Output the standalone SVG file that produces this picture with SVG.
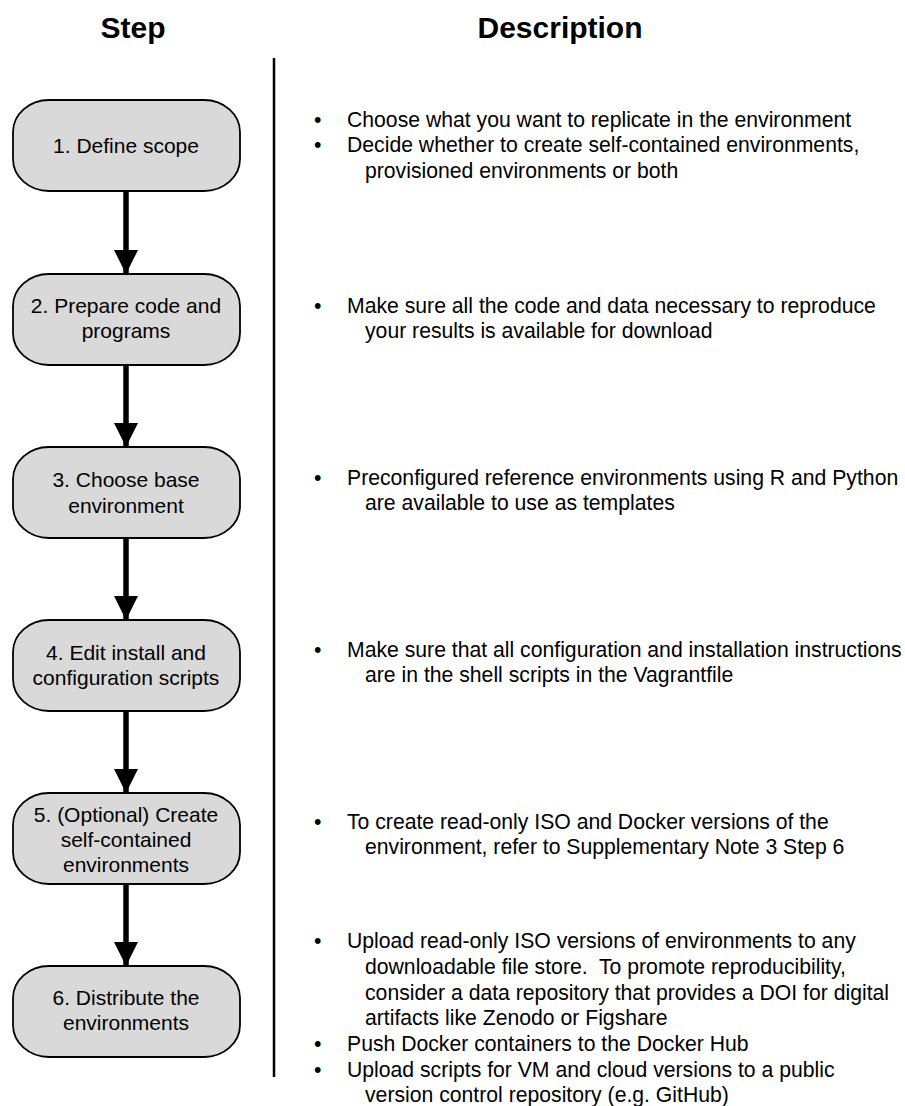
<svg xmlns="http://www.w3.org/2000/svg" width="905" height="1106" viewBox="0 0 905 1106">
<style>
.hdr{font-family:"Liberation Sans",Arial,sans-serif;font-size:30px;font-weight:bold;fill:#000;text-anchor:middle}
.node rect{fill:#d9d9d9;stroke:#000;stroke-width:1.8}
.node text{font-family:"Liberation Sans",Arial,sans-serif;font-size:21px;fill:#000;text-anchor:middle}
.desc text{font-family:"Liberation Sans",Arial,sans-serif;font-size:21.2px;fill:#000}
.conn line{stroke:#000;stroke-width:5.5}
.div{stroke:#000;stroke-width:2.5}
</style>
<defs>
<marker id="ah" viewBox="0 0 24 24" markerWidth="24" markerHeight="24" refX="24" refY="12" orient="auto" markerUnits="userSpaceOnUse">
<path d="M0,0 L24,12 L0,24 Z" fill="#000"/>
</marker>
</defs>
<rect width="905" height="1106" fill="#fff"/>
<text class="hdr" x="133" y="38">Step</text>
<text class="hdr" x="560" y="38">Description</text>
<line class="div" x1="274" y1="58" x2="274" y2="1077"/>

<g id="connectors" class="conn">
<line x1="126" y1="192" x2="126" y2="274" marker-end="url(#ah)"/>
<line x1="126" y1="365" x2="126" y2="447" marker-end="url(#ah)"/>
<line x1="126" y1="538" x2="126" y2="620" marker-end="url(#ah)"/>
<line x1="126" y1="711" x2="126" y2="793" marker-end="url(#ah)"/>
<line x1="126" y1="884" x2="126" y2="966" marker-end="url(#ah)"/>
</g>

<g id="n1" class="node"><rect x="13" y="100" width="227" height="91" rx="36" ry="32"/><text x="126" y="153">1. Define scope</text></g>
<g id="n2" class="node"><rect x="13" y="274" width="227" height="91" rx="36" ry="32"/><text x="126" y="313">2. Prepare code and</text><text x="126" y="338">programs</text></g>
<g id="n3" class="node"><rect x="13" y="447" width="227" height="91" rx="36" ry="32"/><text x="126" y="487">3. Choose base</text><text x="126" y="513">environment</text></g>
<g id="n4" class="node"><rect x="13" y="620" width="227" height="91" rx="36" ry="32"/><text x="126" y="660">4. Edit install and</text><text x="126" y="685">configuration scripts</text></g>
<g id="n5" class="node"><rect x="13" y="793" width="227" height="91" rx="36" ry="32"/><text x="126" y="822">5. (Optional) Create</text><text x="126" y="847">self-contained</text><text x="126" y="872">environments</text></g>
<g id="n6" class="node"><rect x="13" y="966" width="227" height="91" rx="36" ry="32"/><text x="126" y="1005">6. Distribute the</text><text x="126" y="1030">environments</text></g>

<g id="d1" class="desc">
<text x="314" y="127">•</text><text x="347" y="127">Choose what you want to replicate in the environment</text>
<text x="314" y="152">•</text><text x="347" y="152">Decide whether to create self-contained environments,</text>
<text x="365" y="178">provisioned environments or both</text>
</g>
<g id="d2" class="desc">
<text x="314" y="313">•</text><text x="347" y="313">Make sure all the code and data necessary to reproduce</text>
<text x="365" y="338">your results is available for download</text>
</g>
<g id="d3" class="desc">
<text x="314" y="485">•</text><text x="347" y="485">Preconfigured reference environments using R and Python</text>
<text x="365" y="510">are available to use as templates</text>
</g>
<g id="d4" class="desc">
<text x="314" y="657">•</text><text x="347" y="657">Make sure that all configuration and installation instructions</text>
<text x="365" y="682">are in the shell scripts in the Vagrantfile</text>
</g>
<g id="d5" class="desc">
<text x="314" y="829">•</text><text x="347" y="829">To create read-only ISO and Docker versions of the</text>
<text x="365" y="854">environment, refer to Supplementary Note 3 Step 6</text>
</g>
<g id="d6" class="desc">
<text x="314" y="948">•</text><text x="347" y="948">Upload read-only ISO versions of environments to any</text>
<text x="365" y="974">downloadable file store.&#160; To promote reproducibility,</text>
<text x="365" y="1000">consider a data repository that provides a DOI for digital</text>
<text x="365" y="1025">artifacts like Zenodo or Figshare</text>
<text x="314" y="1051">•</text><text x="347" y="1051">Push Docker containers to the Docker Hub</text>
<text x="314" y="1077">•</text><text x="347" y="1077">Upload scripts for VM and cloud versions to a public</text>
<text x="365" y="1102">version control repository (e.g. GitHub)</text>
</g>
</svg>
